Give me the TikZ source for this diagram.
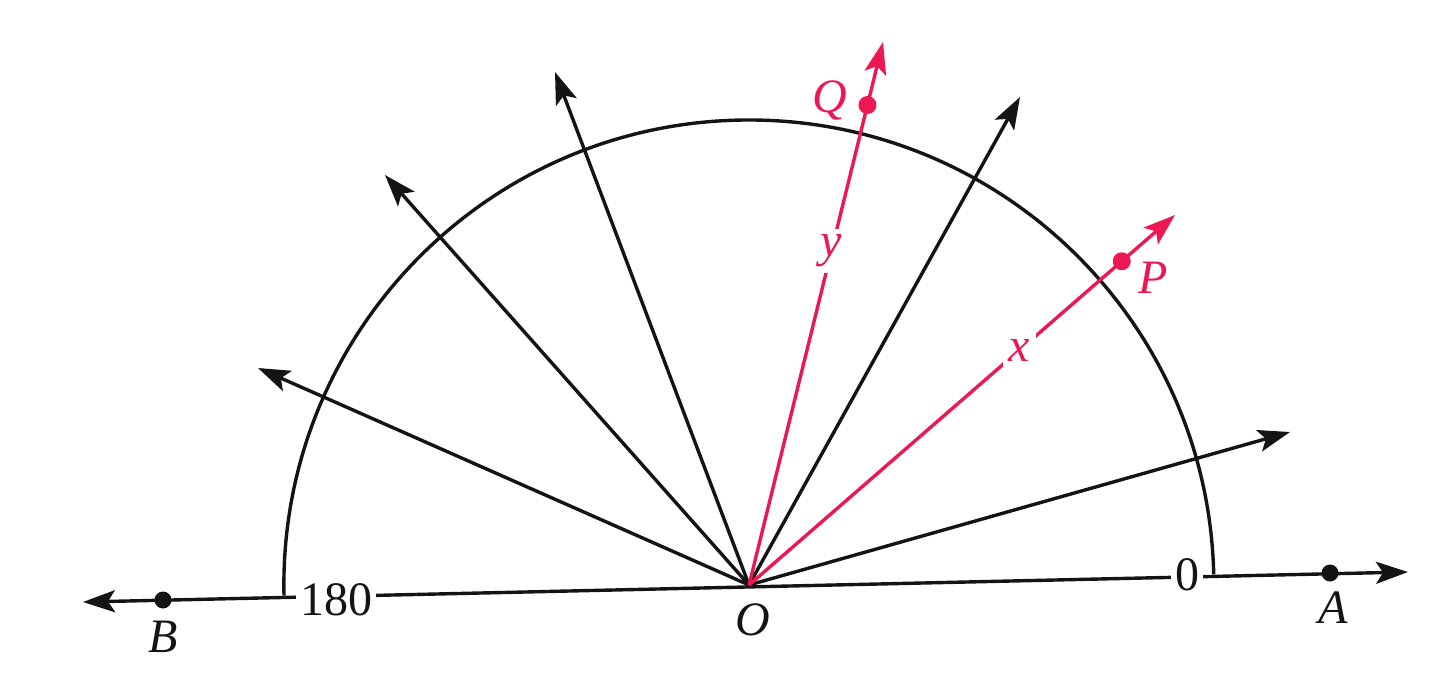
\documentclass[tikz,border=0pt]{standalone}
\usepackage{fontspec}
\setmainfont{Liberation Serif}
\usetikzlibrary{arrows.meta,calc}
\definecolor{ink}{RGB}{20,20,20}
\definecolor{rose}{RGB}{236,24,84}
\begin{document}
\begin{tikzpicture}[x=0.5pt,y=0.5pt,
  tip/.style={-{Stealth[length=16pt,width=11pt,inset=3.5pt]}},
  ray/.style={line width=1.7pt, draw=ink, tip},
  redray/.style={line width=1.7pt, draw=rose, tip},
  lbl/.style={font=\fontsize{24}{28}\selectfont\itshape, text=ink, inner sep=1pt},
  num/.style={font=\fontsize{24}{28}\selectfont, text=ink, fill=white, inner sep=2pt},
  redlbl/.style={font=\fontsize{24}{28}\selectfont\itshape, text=rose, fill=white, inner sep=3pt},
  dot/.style={circle, fill=#1, inner sep=0pt, minimum size=8.5pt}]
\useasboundingbox (0,0) rectangle (1440,-682);
% centre and base points
\coordinate (O) at (749,-585);
\coordinate (tipB) at (83,-602);
\coordinate (tipA) at (1408,-572);
\coordinate (L) at (284,-595.5);
% baseline
\draw[line width=1.7pt, draw=ink, {Stealth[length=16pt,width=11pt,inset=3.5pt]}-{Stealth[length=16pt,width=11pt,inset=3.5pt]}] (tipB) -- (tipA);
% protractor arc
\draw[line width=1.7pt, draw=ink] (L) arc[start angle=181.3, end angle=1.3, radius=465];
\node[num] (n180) at (336,-600) {180};
\node[num] (n0) at (1187,-575) {0};
% points on baseline
\node[dot=ink] (B) at (163,-600) {};
\node[dot=ink] (A) at (1330,-573) {};
\node[lbl] (Blbl) at (163,-637) {B};
\node[lbl] (Albl) at (1333,-608) {A};
\node[lbl] (Olbl) at (753,-620) {O};
% black rays
\coordinate (r1) at (1290,-432);
\coordinate (r2) at (1020,-97);
\coordinate (r3) at (555,-72);
\coordinate (r4) at (385,-175);
\coordinate (r5) at (258,-368);
\foreach \r in {r1,r2,r3,r4,r5} \draw[ray] (O) -- (\r);
% red rays
\coordinate (tQ) at (883,-42);
\coordinate (tP) at (1175,-215);
\draw[redray] (O) -- (tQ) node[redlbl, pos=0.615] (ylbl) {y};
\draw[redray] (O) -- (tP) node[redlbl, pos=0.635] (xlbl) {x};
\node[dot=rose, minimum size=9pt] (Q) at ($(O)!0.884!(tQ)$) {};
\node[dot=rose, minimum size=9pt] (P) at ($(O)!0.875!(tP)$) {};
\node[lbl, text=rose] (Qlbl) at (830,-100) {Q};
\node[lbl, text=rose] (Plbl) at (1153,-278) {P};
\end{tikzpicture}
\end{document}
